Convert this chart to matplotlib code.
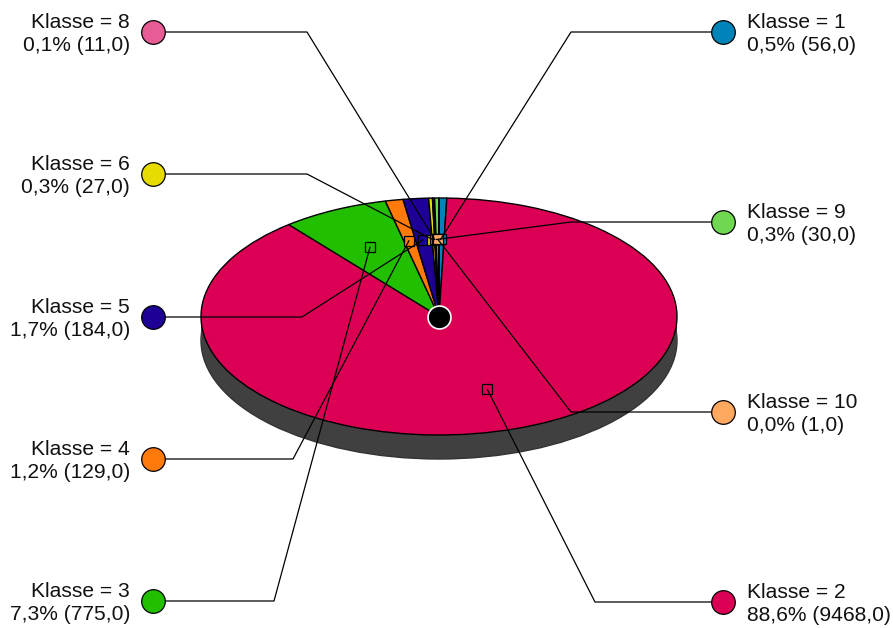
import numpy as np
import matplotlib
matplotlib.use("Agg")
import matplotlib.pyplot as plt
from matplotlib.patches import Ellipse, Rectangle

plt.rcParams['font.family'] = ['Liberation Sans', 'DejaVu Sans']

classes = ['1', '2', '3', '4', '5', '6', '7', '8', '9', '10']
values = [56, 9468, 775, 129, 184, 27, 5, 11, 30, 1]
colors = ['#0083B8', '#DC0055', '#22BE00', '#FF7A0A', '#1E0096', '#E6DC00',
          '#2E6B4E', '#E85C96', '#70D850', '#FFA860']
percents = ['0,5%', '88,6%', '7,3%', '1,2%', '1,7%', '0,3%', None, '0,1%', '0,3%', '0,0%']
totals = ['56,0', '9468,0', '775,0', '129,0', '184,0', '27,0', None, '11,0', '30,0', '1,0']

W, H = 893, 628
CX, CY, A, B, DEPTH = 439, 316.5, 238, 118.5, 24
START_CW_FROM_TOP = 0.0

# legend dot centre (px) and elbow x (px)
legend_layout = {
    '1': (723, 32, 571), '9': (723, 222, 571), '10': (723, 412, 571), '2': (723, 602, 595),
    '8': (153, 32, 307), '6': (153, 174, 307), '5': (153, 317, 302),
    '4': (153, 459, 293), '3': (153, 601, 274),
}

fig = plt.figure(figsize=(W / 100, H / 100), dpi=100)

# Background pixel axes: the extruded side of the pie
bg = fig.add_axes([0, 0, 1, 1], zorder=0)
bg.set_xlim(0, W); bg.set_ylim(H, 0); bg.axis('off')
bg.add_patch(Ellipse((CX, CY + DEPTH), 2 * A, 2 * B, fc='#404040', ec='#333333', lw=1))
bg.add_patch(Rectangle((CX - A, CY), 2 * A, DEPTH, fc='#404040', ec='none'))

# Pie axes: box is 1.25 * the ellipse so that pie's default limits map to it
px, py = 1.25 * A, 1.25 * B
pie_ax = fig.add_axes([(CX - px) / W, 1 - (CY + py) / H, 2 * px / W, 2 * py / H], zorder=1)
pie_ax.pie(values, colors=colors, startangle=90 - START_CW_FROM_TOP, counterclock=False,
           wedgeprops=dict(edgecolor='black', linewidth=1))
pie_ax.set_aspect('auto')
pie_ax.set_xlim(-1.25, 1.25); pie_ax.set_ylim(-1.25, 1.25)
pie_ax.patch.set_alpha(0)

# Overlay pixel axes: leader lines, markers, legend dots, labels
ov = fig.add_axes([0, 0, 1, 1], zorder=2)
ov.set_xlim(0, W); ov.set_ylim(H, 0); ov.axis('off'); ov.patch.set_alpha(0)

ov.plot([CX - 0.5], [CY], 'o', ms=16.5, mfc='black', mec='white', mew=1.2, zorder=6)

fractions = np.array(values) / sum(values)
edges = START_CW_FROM_TOP + 360 * np.concatenate([[0], np.cumsum(fractions)])
mids = np.radians((edges[:-1] + edges[1:]) / 2)

for i, c in enumerate(classes):
    if c not in legend_layout:
        continue
    lx, ly, ex = legend_layout[c]
    mx = CX - 1 + 0.65 * A * np.sin(mids[i])
    my = CY - 0.65 * B * np.cos(mids[i])
    ov.plot([lx, ex, mx], [ly, ly, my], color='black', lw=0.9, zorder=4)
    ov.plot([mx], [my], 's', ms=7.5, mfc=colors[i], mec='black', mew=0.9, zorder=3 + i * 0.01)
    ov.plot([lx], [ly], 'o', ms=17, mfc=colors[i], mec='black', mew=0.9, zorder=5)
    text = f'Klasse = {c}\n{percents[i]} ({totals[i]})'
    if lx > CX:
        ov.text(lx + 24, ly + 2, text, ha='left', va='center', fontsize=15.1, color='#111111', linespacing=1.31)
    else:
        ov.text(lx - 23, ly + 2, text, ha='right', va='center', fontsize=15.1, color='#111111', linespacing=1.31,
                multialignment='right')

fig.savefig('out.png', dpi=100)
